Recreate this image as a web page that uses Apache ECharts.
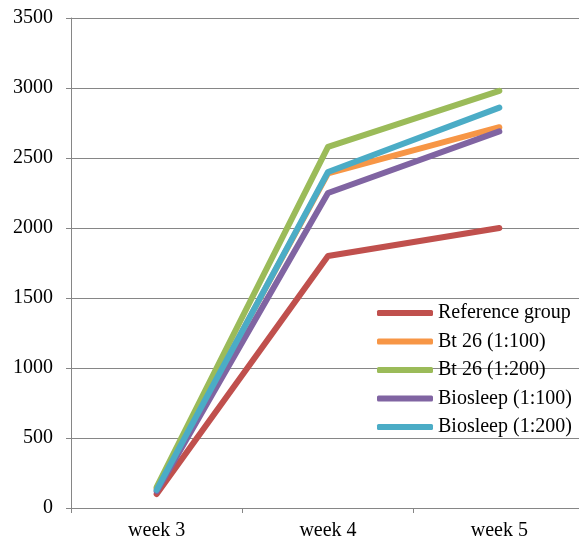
<!DOCTYPE html>
<html>
<head>
<meta charset="utf-8">
<script src="https://cdn.jsdelivr.net/npm/echarts@6/dist/echarts.min.js"></script>
<style>html,body{margin:0;padding:0;background:#fff;}#c{width:579px;height:541px;}</style>
</head>
<body>
<div id="c"></div>
<script>
const categories = ['week 3', 'week 4', 'week 5'];
const seriesNames = ['Reference group', 'Bt 26 (1:100)', 'Bt 26 (1:200)', 'Biosleep (1:100)', 'Biosleep (1:200)'];
const referenceGroup = [100, 1800, 2000];
const bt26_100 = [140, 2390, 2720];
const bt26_200 = [150, 2580, 2980];
const biosleep100 = [120, 2250, 2690];
const biosleep200 = [130, 2400, 2860];
const colors = ['#C0504D', '#F79646', '#9BBB59', '#8064A2', '#4BACC6'];
const yTicks = { min: 0, max: 3500, interval: 500 };

const allValues = [referenceGroup, bt26_100, bt26_200, biosleep100, biosleep200];
const font = 'Liberation Serif';
const chart = echarts.init(document.getElementById('c'), null, { renderer: 'canvas' });
chart.setOption({
  animation: false,
  backgroundColor: '#fff',
  color: colors,
  grid: { left: 71, top: 18, width: 514, height: 490, containLabel: false, outerBoundsMode: 'none' },
  legend: {
    orient: 'vertical',
    left: 377,
    top: 303,
    itemWidth: 56,
    itemHeight: 6,
    itemGap: 8.5,
    icon: 'roundRect',
    padding: 0,
    textStyle: { fontFamily: font, fontSize: 20, color: '#000' },
    data: seriesNames
  },
  xAxis: {
    type: 'category',
    data: categories,
    boundaryGap: true,
    axisLine: { lineStyle: { color: '#868686', width: 1 } },
    axisTick: { show: true, length: 5, lineStyle: { color: '#868686' } },
    axisLabel: { fontFamily: font, fontSize: 20, color: '#000', margin: 13 }
  },
  yAxis: {
    type: 'value',
    min: yTicks.min, max: yTicks.max, interval: yTicks.interval,
    axisLine: { show: true, lineStyle: { color: '#868686', width: 1 } },
    axisTick: { show: true, length: 5, lineStyle: { color: '#868686' } },
    axisLabel: { fontFamily: font, fontSize: 20, color: '#000', margin: 18, formatter: v => String(v) },
    splitLine: { show: true, lineStyle: { color: '#868686', width: 1 } }
  },
  series: seriesNames.map((n, i) => ({
    name: n,
    type: 'line',
    data: allValues[i],
    symbol: 'none',
    lineStyle: { width: 6, cap: 'round', join: 'round', color: colors[i] },
    itemStyle: { color: colors[i] }
  }))
});
</script>
</body>
</html>
